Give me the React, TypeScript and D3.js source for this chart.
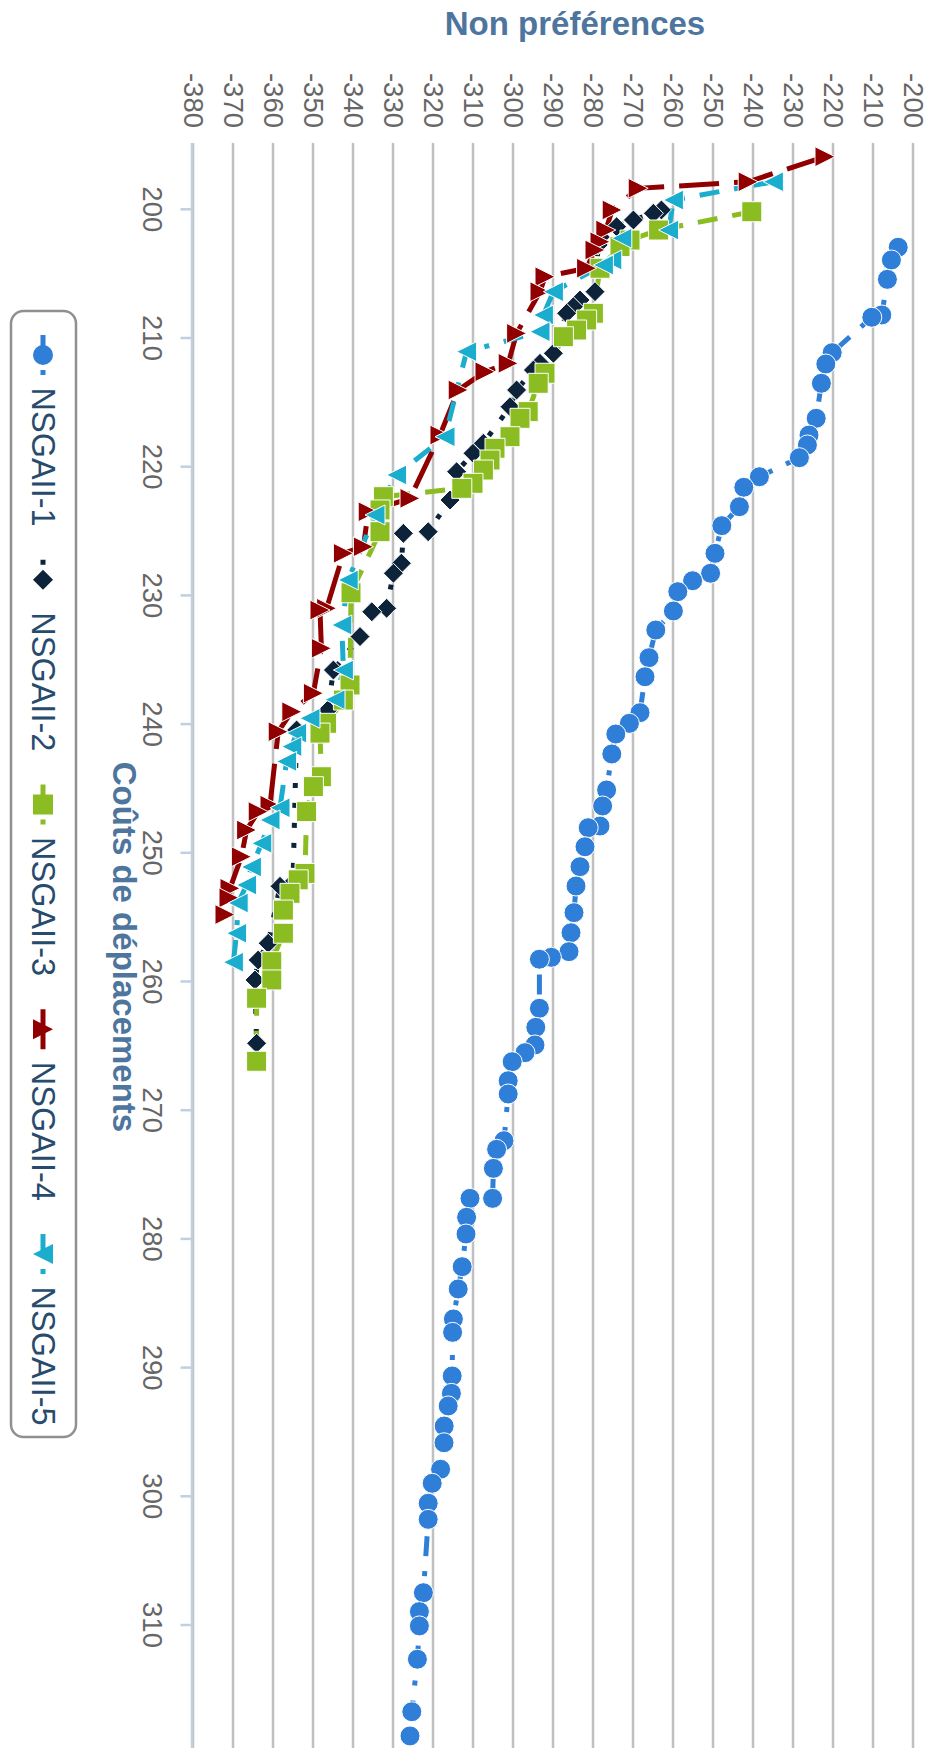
import React from 'react';
import * as d3 from 'd3';

type Pt = [number, number];

const costTicks = [200, 210, 220, 230, 240, 250, 260, 270, 280, 290, 300, 310];
const prefTicks = [-380, -370, -360, -350, -340, -330, -320, -310, -300, -290, -280, -270, -260, -250, -240, -230, -220, -210, -200];
const xTitle = 'Coûts de déplacements';
const yTitle = 'Non préférences';
const seriesNames = ['NSGAII-1', 'NSGAII-2', 'NSGAII-3', 'NSGAII-4', 'NSGAII-5'];
const seriesColors = ['#2f7ed8', '#0d233a', '#8bbc21', '#910000', '#1aadce'];
const seriesSymbols = ['circle', 'diamond', 'square', 'triangle', 'triangle-down'];
const seriesDash = ['4,3,1,3', '1,3', '4,3', '8,3', '4,3,1,3'];

const nsga1: Pt[] = [
  [202.95, -203.7], [203.94, -205.4], [205.44, -206.4], [208.21, -207.8], [208.39, -210.3], [211.14, -220.2],
  [212.02, -221.8], [213.52, -222.9], [216.24, -224.2], [217.54, -226.0], [218.31, -226.4], [219.3, -228.4],
  [220.78, -238.4], [221.6, -242.3], [223.11, -243.4], [224.58, -247.8], [226.73, -249.5], [228.28, -250.6],
  [228.86, -255.1], [229.71, -258.8], [231.21, -259.9], [232.69, -264.3], [234.84, -266.0], [236.32, -267.0],
  [239.11, -268.25], [239.94, -270.9], [240.77, -274.3], [242.32, -275.3], [245.12, -276.6], [246.36, -277.6],
  [247.92, -278.25], [248.05, -281.2], [249.53, -282.0], [251.08, -283.25], [252.58, -284.25], [254.65, -284.75],
  [256.21, -285.5], [257.68, -286.0], [258.12, -290.4], [258.27, -293.4], [262.08, -293.4], [263.56, -294.3],
  [264.93, -294.5], [265.53, -297.0], [266.23, -300.2], [267.71, -301.2], [268.74, -301.2], [272.37, -302.25],
  [273.04, -304.1], [274.52, -304.9], [276.85, -305.1], [276.85, -310.75], [278.32, -311.6], [279.62, -311.75],
  [282.16, -312.7], [283.89, -313.7], [286.22, -314.9], [287.26, -315.1], [290.65, -315.2], [292.0, -315.4],
  [292.98, -316.2], [294.54, -317.2], [295.84, -317.25], [297.9, -318.1], [298.99, -320.2], [300.54, -321.2],
  [301.79, -321.2], [307.49, -322.4], [308.96, -323.4], [310.07, -323.4], [312.66, -323.9], [316.74, -325.3],
  [318.62, -325.75],
];

const nsga2: Pt[] = [
  [200.05, -262.9], [200.31, -264.9], [200.83, -269.9], [201.35, -274.1], [202.77, -278.7], [206.4, -279.5],
  [207.05, -283.25], [207.57, -284.9], [208.08, -286.6], [211.19, -289.9], [211.97, -293.25], [212.49, -294.9],
  [214.04, -299.1], [215.34, -300.75], [218.18, -307.4], [218.96, -310.0], [220.39, -314.1], [222.59, -315.75],
  [225.05, -321.2], [225.18, -327.4], [227.5, -327.9], [228.28, -329.9], [231.0, -331.6], [231.27, -335.3],
  [233.2, -338.25], [235.8, -344.9], [238.9, -346.25], [240.46, -354.1], [252.3, -355.0], [252.6, -358.25],
  [257.03, -361.2], [258.33, -363.7], [259.88, -364.5], [264.8, -364.1],
];

const nsga3: Pt[] = [
  [200.19, -240.3], [201.61, -263.6], [202.39, -270.75], [202.9, -273.25], [204.58, -278.25], [208.08, -279.9],
  [208.6, -281.6], [209.38, -284.1], [209.9, -287.4], [212.74, -292.0], [213.52, -293.7], [215.72, -296.2],
  [216.24, -298.25], [217.67, -300.75], [218.57, -304.5], [219.48, -305.75], [220.26, -307.4], [221.29, -310.0],
  [221.68, -312.8], [222.33, -332.4], [223.36, -333.25], [225.05, -333.25], [229.8, -340.5], [236.96, -340.75],
  [238.13, -342.4], [239.94, -346.6], [240.7, -348.25], [244.09, -347.9], [244.86, -349.9], [246.8, -351.6],
  [251.6, -352.0], [252.1, -353.7], [253.15, -355.75], [254.45, -357.4], [256.25, -357.4], [258.46, -360.3],
  [259.88, -360.3], [261.3, -364.1], [266.2, -364.1],
];

const nsga4: Pt[] = [
  [195.91, -222.0], [197.86, -241.2], [198.37, -268.7], [200.05, -275.2], [201.61, -276.8], [202.52, -278.25],
  [203.16, -279.5], [204.58, -281.6], [205.24, -292.0], [206.4, -293.25], [209.64, -299.1], [211.97, -301.2],
  [212.62, -307.0], [214.04, -313.7], [217.54, -318.25], [222.46, -325.75], [223.5, -336.2], [226.22, -337.4],
  [226.73, -342.4], [231.0, -346.6], [231.14, -348.25], [234.11, -347.9], [237.6, -349.9], [239.04, -355.3],
  [240.59, -358.7], [246.3, -360.75], [246.8, -363.7], [248.23, -366.6], [250.3, -367.9], [252.76, -370.75],
  [253.5, -371.0], [254.8, -372.0],
];

const nsga5: Pt[] = [
  [197.86, -234.9], [199.28, -259.9], [201.61, -261.1], [202.25, -272.8], [203.94, -275.3], [204.33, -277.4],
  [206.4, -289.9], [208.21, -292.4], [209.51, -293.25], [211.06, -311.6], [217.67, -317.0], [220.64, -329.1],
  [223.75, -334.5], [228.8, -341.2], [232.3, -342.8], [235.8, -342.4], [238.1, -344.5], [239.55, -350.75],
  [240.7, -354.1], [241.75, -355.3], [242.9, -356.6], [246.5, -358.25], [247.45, -360.75], [249.26, -362.8],
  [251.1, -365.4], [252.5, -366.6], [253.9, -368.7], [256.25, -369.1], [258.5, -369.9],
];

const seriesData = [nsga1, nsga2, nsga3, nsga4, nsga5];

// layout, in the un-rotated chart frame (the chart is drawn rotated 90° clockwise)
const W = 928;
const H = 1748;
const K = 2.5;
const FONT = '"Liberation Sans", Arial, Helvetica, sans-serif';
const plotLeft = 143;
const plotRight = 1755;
const plotTop = -30;
const plotBottom = 735;

const xScale = d3.scaleLinear().domain([200, 310]).range([209.3, 1625]);
const yScale = d3.scaleLinear().domain([-380, -200]).range([735, 15]);

function markerPath(sym: string, cx: number, cy: number, r: number): string {
  switch (sym) {
    case 'diamond':
      return `M${cx},${cy - r}L${cx + r},${cy}L${cx},${cy + r}L${cx - r},${cy}Z`;
    case 'square':
      return `M${cx - r},${cy - r}L${cx + r},${cy - r}L${cx + r},${cy + r}L${cx - r},${cy + r}Z`;
    case 'triangle':
      return `M${cx},${cy - r}L${cx + r},${cy + r}L${cx - r},${cy + r}Z`;
    case 'triangle-down':
      return `M${cx - r},${cy - r}L${cx + r},${cy - r}L${cx},${cy + r}Z`;
    default:
      return `M${cx - r},${cy}A${r},${r} 0 1,0 ${cx + r},${cy}A${r},${r} 0 1,0 ${cx - r},${cy}Z`;
  }
}

const legendLeft = 311;
const legendRight = 1437;
const legendTop = 852;
const legendBottom = 917;
const legendFirst = 355;
const legendStep = 224.75;
const legendMid = 885;

export default function App() {
  const line = d3
    .line<Pt>()
    .x((d) => xScale(d[0]))
    .y((d) => yScale(d[1]));
  const R = 4 * K;
  const lw = 2 * K;

  return (
    <svg
      width={W}
      height={H}
      viewBox={`0 0 ${W} ${H}`}
      style={{ position: 'absolute', left: 0, top: 0, background: '#ffffff' }}
      fontFamily={FONT}
    >
      <rect x={0} y={0} width={W} height={H} fill="#ffffff" />
      <defs>
        <clipPath id="plotClip">
          <rect x={plotLeft} y={plotTop} width={plotRight - plotLeft} height={plotBottom - plotTop} />
        </clipPath>
        <clipPath id="markerClip">
          <rect x={plotLeft - 15} y={plotTop - 15} width={plotRight - plotLeft + 30} height={plotBottom - plotTop + 30} />
        </clipPath>
      </defs>
      <g transform={`translate(${W},0) rotate(90)`}>
        {/* grid lines */}
        {prefTicks.map((t) => (
          <line
            key={`g${t}`}
            x1={plotLeft}
            x2={plotRight}
            y1={yScale(t)}
            y2={yScale(t)}
            stroke="#c0c0c0"
            strokeWidth={K}
          />
        ))}
        {/* x axis line and ticks */}
        <line x1={plotLeft} x2={plotRight} y1={plotBottom + 1} y2={plotBottom + 1} stroke="#c0d0e0" strokeWidth={K} />
        {costTicks.map((t) => (
          <line
            key={`t${t}`}
            x1={xScale(t)}
            x2={xScale(t)}
            y1={plotBottom}
            y2={plotBottom + 5 * K}
            stroke="#c0d0e0"
            strokeWidth={K}
          />
        ))}
        {/* y labels */}
        {prefTicks.map((t) => (
          <text
            key={`yl${t}`}
            x={128}
            y={yScale(t) + 9.5}
            textAnchor="end"
            fontSize={27.5}
            fill="#666666"
          >
            {t}
          </text>
        ))}
        {/* x labels */}
        {costTicks.map((t) => (
          <text key={`xl${t}`} x={xScale(t)} y={785} textAnchor="middle" fontSize={27.5} fill="#666666">
            {t}
          </text>
        ))}
        {/* axis titles */}
        <text x={947} y={815} textAnchor="middle" fontSize={33} fontWeight="bold" fill="#4d759e">
          {xTitle}
        </text>
        <text transform={`translate(35,353) rotate(-90)`} textAnchor="middle" fontSize={33} fontWeight="bold" fill="#4d759e">
          {yTitle}
        </text>
        {/* series */}
        <g clipPath="url(#plotClip)">
          {seriesData.map((data, i) => (
            <path
              key={`l${i}`}
              d={line(data) || ''}
              fill="none"
              stroke={seriesColors[i]}
              strokeWidth={lw}
              strokeDasharray={seriesDash[i].split(',').map((v) => +v * lw).join(',')}
            />
          ))}
        </g>
        <g clipPath="url(#markerClip)">
          {seriesData.map((data, i) => (
            <g key={`m${i}`}>
              {data.map((d, j) => (
                <path
                  key={j}
                  d={markerPath(seriesSymbols[i], xScale(d[0]), yScale(d[1]), R)}
                  fill={seriesColors[i]}
                  stroke="#ffffff"
                  strokeWidth={1}
                />
              ))}
            </g>
          ))}
        </g>
        {/* legend */}
        <rect
          x={legendLeft}
          y={legendTop}
          width={legendRight - legendLeft}
          height={legendBottom - legendTop}
          rx={5 * K}
          ry={5 * K}
          fill="#ffffff"
          stroke="#909090"
          strokeWidth={K}
        />
        {seriesNames.map((name, i) => {
          const cx = legendFirst + i * legendStep;
          return (
            <g key={`lg${i}`}>
              <line
                x1={cx - 8 * K}
                x2={cx + 8 * K}
                y1={legendMid}
                y2={legendMid}
                stroke={seriesColors[i]}
                strokeWidth={lw}
                strokeDasharray={seriesDash[i].split(',').map((v) => +v * lw).join(',')}
              />
              <path d={markerPath(seriesSymbols[i], cx, legendMid, R)} fill={seriesColors[i]} />
              <text x={cx + 13 * K} y={legendMid + 11.5} fontSize={32.5} fill="#274b6d">
                {name}
              </text>
            </g>
          );
        })}
      </g>
    </svg>
  );
}
